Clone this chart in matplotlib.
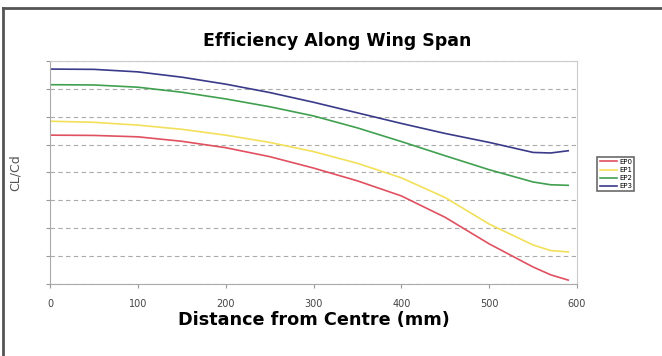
import matplotlib
matplotlib.use("Agg")
import matplotlib.pyplot as plt
from matplotlib.lines import Line2D

distance = [0, 50, 100, 150, 200, 250, 300, 350, 400, 450, 500, 550, 570, 590]
ep0 = [5.34, 5.33, 5.28, 5.12, 4.89, 4.57, 4.16, 3.70, 3.16, 2.39, 1.44, 0.61, 0.33, 0.14]
ep1 = [5.84, 5.80, 5.70, 5.55, 5.34, 5.08, 4.75, 4.33, 3.81, 3.10, 2.15, 1.40, 1.20, 1.15]
ep2 = [7.15, 7.14, 7.06, 6.88, 6.64, 6.36, 6.03, 5.60, 5.11, 4.60, 4.10, 3.66, 3.56, 3.54]
ep3 = [7.71, 7.70, 7.61, 7.42, 7.17, 6.87, 6.52, 6.14, 5.76, 5.40, 5.08, 4.72, 4.70, 4.78]
series_names = ["EP0", "EP1", "EP2", "EP3"]
colors = ["#e05060", "#f2e05a", "#40a050", "#3a3a8a"]
xticks = [0, 100, 200, 300, 400, 500, 600]

W, H = 662, 356
fig = plt.figure(figsize=(W / 100, H / 100), dpi=100)
fig.patch.set_facecolor("white")
# outer frame (top and left only)
fig.add_artist(Line2D([3 / W, 1], [1 - 7.5 / H, 1 - 7.5 / H], transform=fig.transFigure,
                      color="#555555", linewidth=2))
fig.add_artist(Line2D([3 / W, 3 / W], [0, 1 - 7.5 / H], transform=fig.transFigure,
                      color="#555555", linewidth=2))

ax = fig.add_axes([50 / W, 1 - 284 / H, (577 - 50) / W, (284 - 61) / H])
for name, vals, c in zip(series_names, [ep0, ep1, ep2, ep3], colors):
    ax.plot(distance, vals, color=c, linewidth=1.2, label=name)

ax.set_xlim(0, 600)
ax.set_ylim(0, 8)
ax.set_xticks(xticks)
ax.set_xticklabels([str(t) for t in xticks], fontsize=7, color="#444444")
ax.set_yticks(range(0, 9))
ax.set_yticklabels([])
ax.tick_params(axis="y", length=3, color="#999999")
ax.tick_params(axis="x", length=3, color="#999999", pad=8)
ax.grid(axis="y", linestyle=(0, (4, 3)), color="#aaaaaa", linewidth=0.8)
for s in ax.spines.values():
    s.set_color("#cccccc")
    s.set_linewidth(0.8)
ax.spines["left"].set_color("#aaaaaa")
ax.spines["bottom"].set_color("#aaaaaa")

fig.text(337 / W, 1 - 41 / H, "Efficiency Along Wing Span", fontsize=12.5,
         fontweight="bold", ha="center", va="center")
ax.set_xlabel("Distance from Centre (mm)", fontsize=12.7, fontweight="bold", labelpad=1)
ax.set_ylabel("CL/Cd", fontsize=9, color="#555555", labelpad=14)

leg = ax.legend(loc="center left", bbox_to_anchor=(594 / W, 1 - 174 / H),
                bbox_transform=fig.transFigure, fontsize=5, frameon=True,
                fancybox=False, edgecolor="#444444", handlelength=2.5,
                borderpad=0.3, labelspacing=0.3, handletextpad=0.3)
leg.get_frame().set_linewidth(1.2)

fig.savefig("out.png", dpi=100)
